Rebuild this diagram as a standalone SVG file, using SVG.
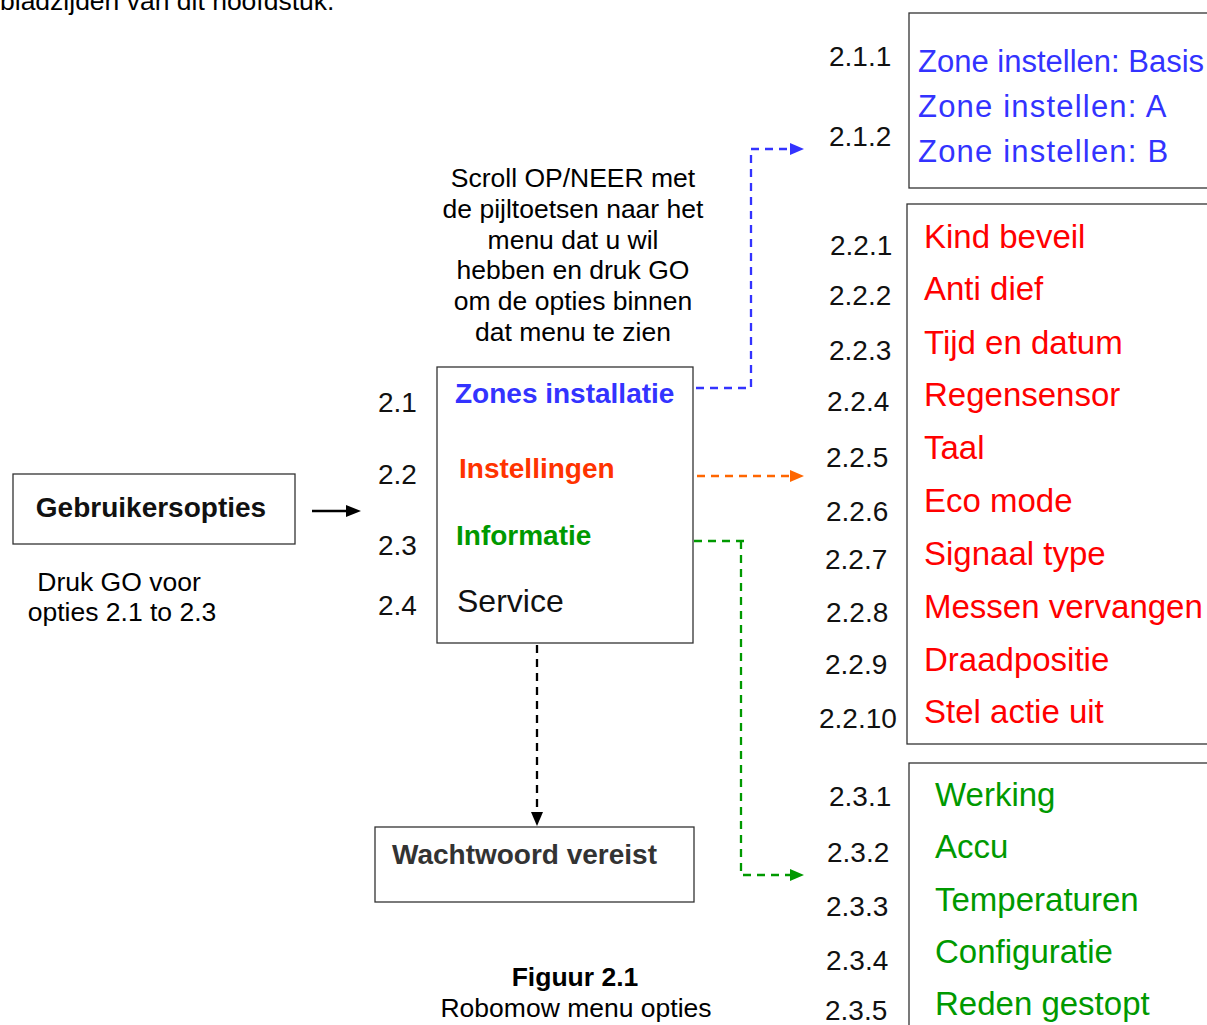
<svg xmlns="http://www.w3.org/2000/svg" width="1207" height="1025" viewBox="0 0 1207 1025">
<style>
text{font-family:"Liberation Sans",Arial,sans-serif}
.t{font-size:26.5px;fill:#000}
.n{font-size:28px;fill:#111}
.b{font-weight:bold;font-size:28px}
.box{fill:#fff;stroke:#333;stroke-width:1.3}
.red{fill:#ff0000;font-size:33px}
.green{fill:#009900;font-size:33px}
.zb{fill:#3333ff;font-size:31px}
.c{fill:none;stroke-width:2.3;stroke-dasharray:8 6}
</style>
<rect width="1207" height="1025" fill="#fff"/>
<text class="t" x="0" y="10">bladzijden van dit hoofdstuk.</text>

<g id="scroll-note" class="t" text-anchor="middle">
<text x="573" y="187">Scroll OP/NEER met</text>
<text x="573" y="218">de pijltoetsen naar het</text>
<text x="573" y="249">menu dat u wil</text>
<text x="573" y="279">hebben en druk GO</text>
<text x="573" y="310">om de opties binnen</text>
<text x="573" y="341">dat menu te zien</text>
</g>

<g id="gebruikersopties">
<rect class="box" x="13" y="474" width="282" height="70"/>
<text class="b" x="151" y="517" text-anchor="middle" fill="#111">Gebruikersopties</text>
<text class="t" x="119" y="591" text-anchor="middle">Druk GO voor</text>
<text class="t" x="122" y="621" text-anchor="middle">opties 2.1 to 2.3</text>
</g>

<g id="menu">
<rect class="box" x="437" y="367" width="256" height="276"/>
<text class="n" x="378" y="412">2.1</text>
<text class="n" x="378" y="484">2.2</text>
<text class="n" x="378" y="555">2.3</text>
<text class="n" x="378" y="615">2.4</text>
<text class="b" x="455" y="403" fill="#3333ff">Zones installatie</text>
<text class="b" x="459" y="478" fill="#ff3300">Instellingen</text>
<text class="b" x="456" y="545" fill="#009900">Informatie</text>
<text x="457" y="612" font-size="32" fill="#111">Service</text>
</g>

<g id="wachtwoord">
<rect class="box" x="375" y="827" width="319" height="75"/>
<text class="b" x="392" y="864" fill="#333">Wachtwoord vereist</text>
</g>

<g id="zones">
<rect class="box" x="909" y="13" width="310" height="175"/>
<text class="n" x="829" y="66">2.1.1</text>
<text class="n" x="829" y="146">2.1.2</text>
<text class="zb" x="918" y="72">Zone instellen: Basis</text>
<text class="zb" x="918" y="117" letter-spacing="1.2">Zone instellen: A</text>
<text class="zb" x="918" y="162" letter-spacing="1.2">Zone instellen: B</text>
</g>

<g id="instellingen">
<rect class="box" x="907" y="204" width="310" height="540"/>
<text class="n" x="830" y="255">2.2.1</text>
<text class="n" x="829" y="305">2.2.2</text>
<text class="n" x="829" y="360">2.2.3</text>
<text class="n" x="827" y="411">2.2.4</text>
<text class="n" x="826" y="467">2.2.5</text>
<text class="n" x="826" y="521">2.2.6</text>
<text class="n" x="825" y="569">2.2.7</text>
<text class="n" x="826" y="622">2.2.8</text>
<text class="n" x="825" y="674">2.2.9</text>
<text class="n" x="819" y="728">2.2.10</text>
<text class="red" x="924" y="248">Kind beveil</text>
<text class="red" x="924" y="300">Anti dief</text>
<text class="red" x="924" y="354">Tijd en datum</text>
<text class="red" x="924" y="406">Regensensor</text>
<text class="red" x="924" y="459">Taal</text>
<text class="red" x="924" y="512">Eco mode</text>
<text class="red" x="924" y="565">Signaal type</text>
<text class="red" x="924" y="618">Messen vervangen</text>
<text class="red" x="924" y="671">Draadpositie</text>
<text class="red" x="924" y="723">Stel actie uit</text>
</g>

<g id="informatie">
<rect class="box" x="909" y="763" width="310" height="280"/>
<text class="n" x="829" y="806">2.3.1</text>
<text class="n" x="827" y="862">2.3.2</text>
<text class="n" x="826" y="916">2.3.3</text>
<text class="n" x="826" y="970">2.3.4</text>
<text class="n" x="825" y="1020">2.3.5</text>
<text class="green" x="935" y="806">Werking</text>
<text class="green" x="935" y="858">Accu</text>
<text class="green" x="935" y="911">Temperaturen</text>
<text class="green" x="935" y="963">Configuratie</text>
<text class="green" x="935" y="1015">Reden gestopt</text>
</g>

<g id="figcaption" text-anchor="middle">
<text x="575" y="986" font-size="26.5" font-weight="bold" fill="#000">Figuur 2.1</text>
<text class="t" x="576" y="1017">Robomow menu opties</text>
</g>

<g id="connectors">
<line x1="312" y1="511" x2="348" y2="511" stroke="#000" stroke-width="2.5"/>
<path d="M346,505L361,511L346,517z" fill="#000"/>

<path class="c" stroke="#3333ff" d="M696,388H751V149H790"/>
<path d="M790,143L804,149L790,155z" fill="#3333ff"/>

<path class="c" stroke="#ff6600" d="M697,476H790"/>
<path d="M790,470L804,476L790,482z" fill="#ff6600"/>

<path class="c" stroke="#009900" d="M694,541H750"/>
<path class="c" stroke="#009900" d="M741,541V875H790"/>
<path d="M790,869L804,875L790,881z" fill="#009900"/>

<path class="c" stroke="#000" d="M537,645V812"/>
<path d="M531,812L537,826L543,812z" fill="#000"/>
</g>
</svg>
